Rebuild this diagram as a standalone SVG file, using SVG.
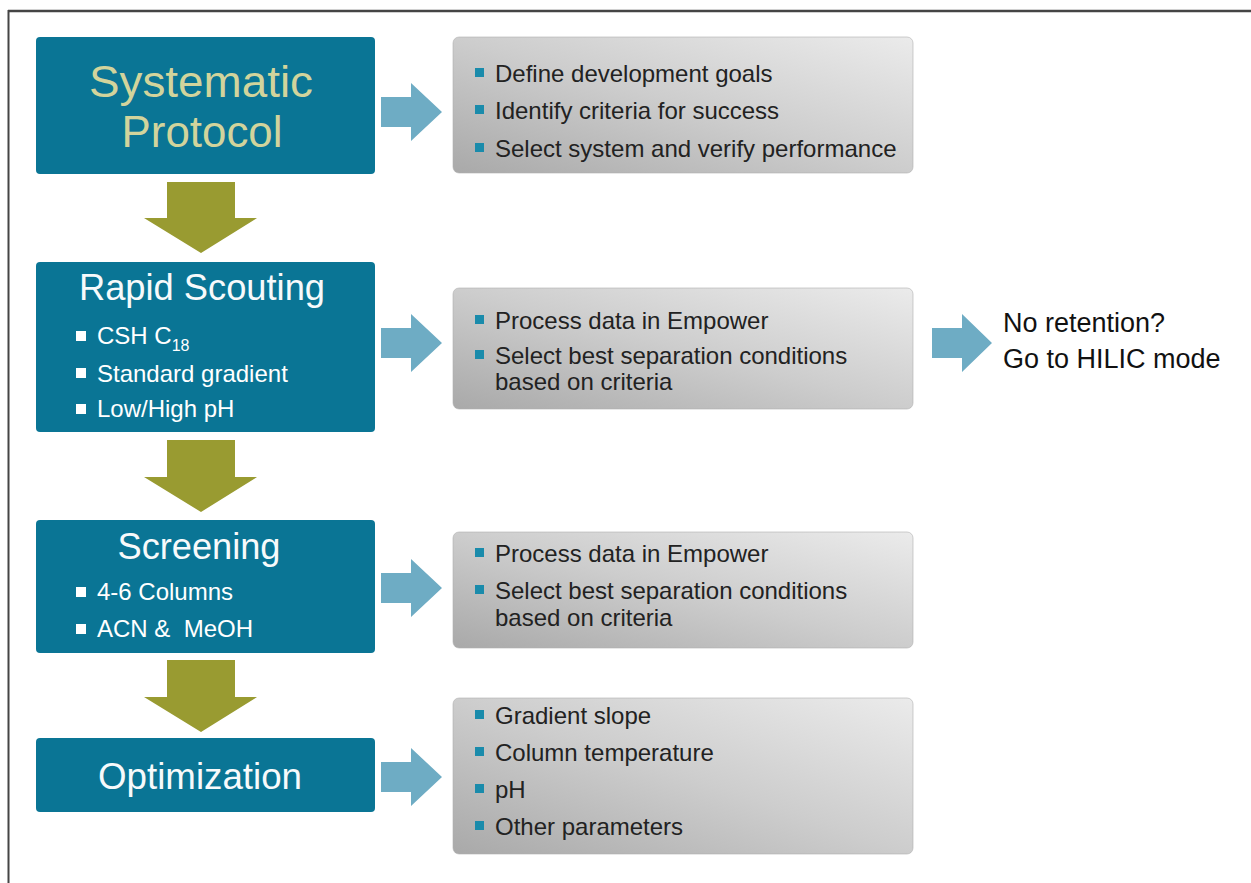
<svg xmlns="http://www.w3.org/2000/svg" width="1251" height="883" viewBox="0 0 1251 883">
<defs>
<linearGradient id="gb" x1="0" y1="1" x2="1" y2="0">
<stop offset="0" stop-color="#a9a9a9"/>
<stop offset="0.5" stop-color="#cdcdcd"/>
<stop offset="1" stop-color="#ebebeb"/>
</linearGradient>
<style>
.teal{fill:#0a7595;}
.gray{fill:url(#gb);stroke:#b0b0b0;stroke-width:0.6;}
.olive{fill:#999b31;}
.blue{fill:#6eacc4;}
.title{font-family:"Liberation Sans",Arial,sans-serif;fill:#f7fafb;text-anchor:middle;}
.title1{font-family:"Liberation Sans",Arial,sans-serif;fill:#d2d49c;text-anchor:middle;font-size:44px;}
.sub{font-family:"Liberation Sans",Arial,sans-serif;fill:#ffffff;font-size:24px;}
.txt{font-family:"Liberation Sans",Arial,sans-serif;fill:#222222;font-size:24px;}
.side{font-family:"Liberation Sans",Arial,sans-serif;fill:#111111;font-size:27px;}
.wb{fill:#ffffff;}
.tb{fill:#1a8bab;}
</style>
</defs>
<rect width="1251" height="883" fill="#ffffff"/>
<g id="frame" stroke="#454545" fill="none">
<line x1="8" y1="11" x2="1251" y2="11" stroke-width="2.5"/>
<line x1="8.5" y1="10" x2="8.5" y2="883" stroke-width="2"/>
</g>
<g id="connectors">
<polygon class="olive" points="167,182 235,182 235,218 257,218 201,253 144,218 167,218"/>
<polygon class="olive" points="167,440 235,440 235,477 257,477 201,512 144,477 167,477"/>
<polygon class="olive" points="167,660 235,660 235,697 257,697 201,732 144,697 167,697"/>
<polygon class="blue" points="381,97 411,97 411,83 442,112 411,141 411,127 381,127"/>
<polygon class="blue" points="381,328 411,328 411,314 442,343 411,372 411,358 381,358"/>
<polygon class="blue" points="381,573 411,573 411,559 442,588 411,617 411,603 381,603"/>
<polygon class="blue" points="381,762 411,762 411,748 442,777 411,806 411,792 381,792"/>
<polygon class="blue" points="932,328 962,328 962,314 992,343 962,372 962,358 932,358"/>
</g>
<g id="systematic-protocol">
<rect class="teal" x="36" y="37" width="339" height="137" rx="4"/>
<text class="title1" x="201" y="97" textLength="224" lengthAdjust="spacingAndGlyphs">Systematic</text>
<text class="title1" x="202" y="147" textLength="161" lengthAdjust="spacingAndGlyphs">Protocol</text>
</g>
<g id="goals">
<rect class="gray" x="453" y="37" width="460" height="136" rx="6"/>
<rect class="tb" x="475" y="68" width="9" height="9"/>
<text class="txt" x="495" y="82">Define development goals</text>
<rect class="tb" x="475" y="105" width="9" height="9"/>
<text class="txt" x="495" y="119">Identify criteria for success</text>
<rect class="tb" x="475" y="143" width="9" height="9"/>
<text class="txt" x="495" y="157">Select system and verify performance</text>
</g>
<g id="rapid-scouting">
<rect class="teal" x="36" y="262" width="339" height="170" rx="4"/>
<text class="title" x="202" y="300" font-size="36" textLength="246" lengthAdjust="spacingAndGlyphs">Rapid Scouting</text>
<rect class="wb" x="76" y="331" width="10" height="10"/>
<text class="sub" x="97" y="344">CSH C<tspan font-size="16" dy="7">18</tspan></text>
<rect class="wb" x="76" y="368" width="10" height="10"/>
<text class="sub" x="97" y="382">Standard gradient</text>
<rect class="wb" x="76" y="404" width="10" height="10"/>
<text class="sub" x="97" y="417">Low/High pH</text>
</g>
<g id="process-1">
<rect class="gray" x="453" y="288" width="460" height="121" rx="6"/>
<rect class="tb" x="475" y="315" width="9" height="9"/>
<text class="txt" x="495" y="329">Process data in Empower</text>
<rect class="tb" x="475" y="350" width="9" height="9"/>
<text class="txt" x="495" y="364">Select best separation conditions</text>
<text class="txt" x="495" y="390">based on criteria</text>
</g>
<g id="hilic">
<text class="side" x="1003" y="332">No retention?</text>
<text class="side" x="1003" y="368">Go to HILIC mode</text>
</g>
<g id="screening">
<rect class="teal" x="36" y="520" width="339" height="133" rx="4"/>
<text class="title" x="199" y="559" font-size="36" textLength="163" lengthAdjust="spacingAndGlyphs">Screening</text>
<rect class="wb" x="76" y="587" width="10" height="10"/>
<text class="sub" x="97" y="600">4-6 Columns</text>
<rect class="wb" x="76" y="624" width="10" height="10"/>
<text class="sub" x="97" y="637" xml:space="preserve">ACN &amp;  MeOH</text>
</g>
<g id="process-2">
<rect class="gray" x="453" y="532" width="460" height="116" rx="6"/>
<rect class="tb" x="475" y="548" width="9" height="9"/>
<text class="txt" x="495" y="562">Process data in Empower</text>
<rect class="tb" x="475" y="585" width="9" height="9"/>
<text class="txt" x="495" y="599">Select best separation conditions</text>
<text class="txt" x="495" y="626">based on criteria</text>
</g>
<g id="optimization">
<rect class="teal" x="36" y="738" width="339" height="74" rx="4"/>
<text class="title" x="200" y="789" font-size="36" textLength="204" lengthAdjust="spacingAndGlyphs">Optimization</text>
</g>
<g id="parameters">
<rect class="gray" x="453" y="698" width="460" height="156" rx="6"/>
<rect class="tb" x="475" y="710" width="9" height="9"/>
<text class="txt" x="495" y="724">Gradient slope</text>
<rect class="tb" x="475" y="747" width="9" height="9"/>
<text class="txt" x="495" y="761">Column temperature</text>
<rect class="tb" x="475" y="784" width="9" height="9"/>
<text class="txt" x="495" y="798">pH</text>
<rect class="tb" x="475" y="821" width="9" height="9"/>
<text class="txt" x="495" y="835">Other parameters</text>
</g>
</svg>
